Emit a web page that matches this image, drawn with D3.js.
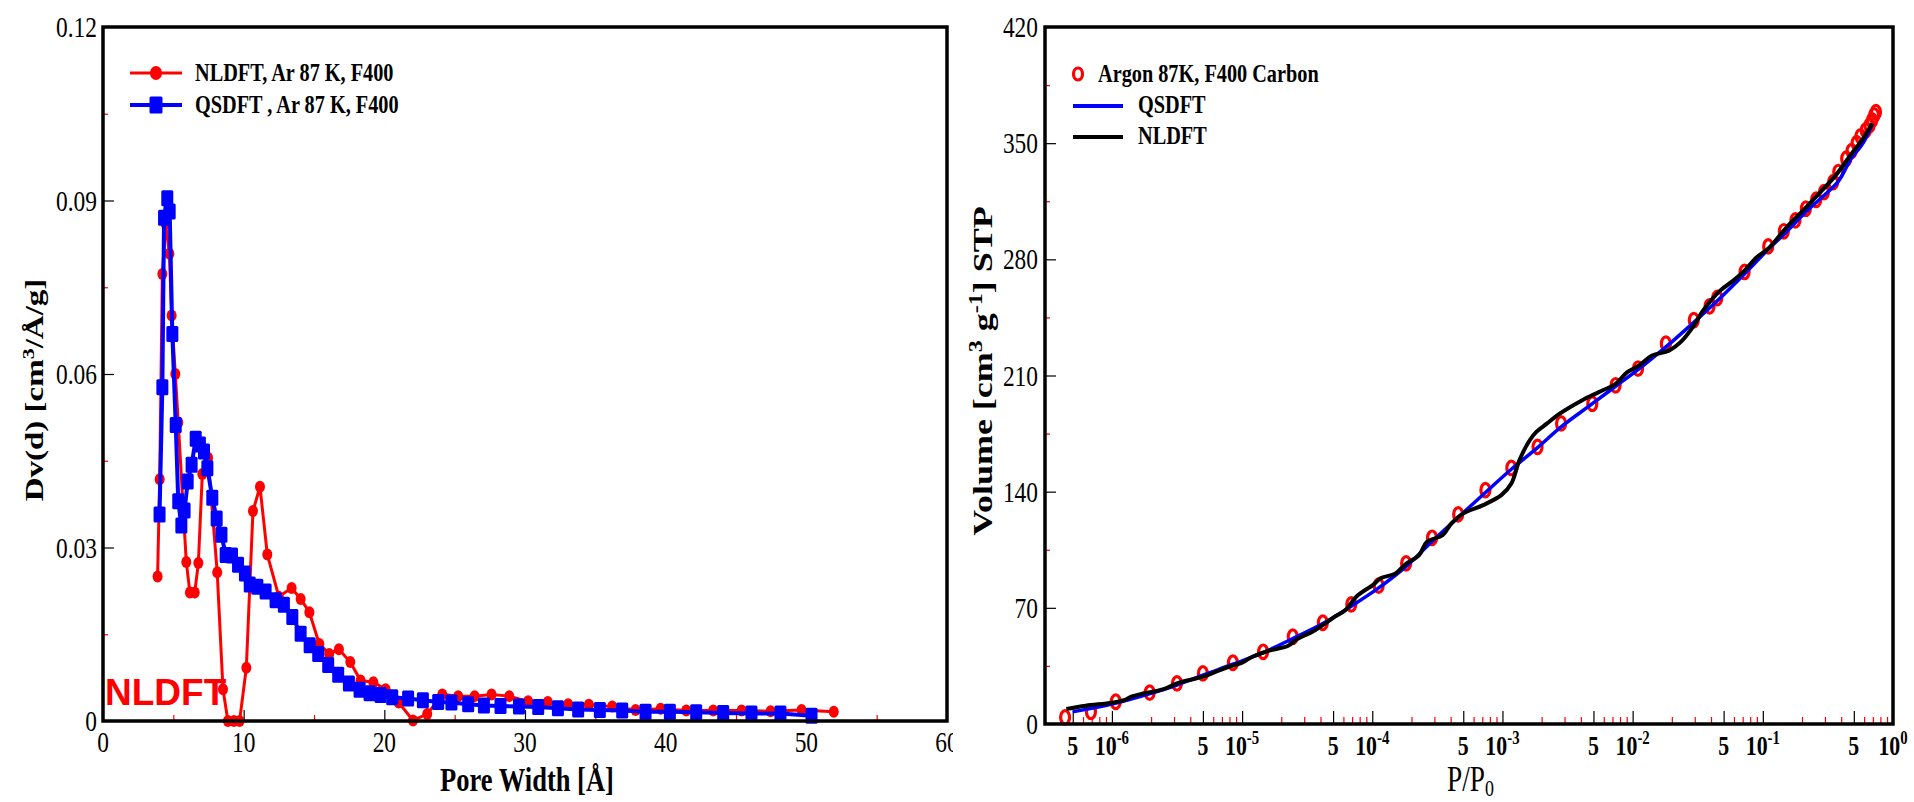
<!DOCTYPE html>
<html>
<head>
<meta charset="utf-8">
<script src="https://cdn.jsdelivr.net/npm/d3@7"></script>
<style>
  body { margin: 0; background: #fff; }
  svg { display: block; }
</style>
</head>
<body>
<svg id="chart" width="1914" height="802"></svg>
<script>
// ---------- Pore size distributions (left panel) ----------
const poreWidthNLDFT = [3.88, 4.03, 4.22, 4.45, 4.72, 4.88, 5.14, 5.35, 5.92, 6.18, 6.52, 6.78, 7.06, 7.47, 8.12, 8.53,
  8.88, 9.31, 9.71, 10.19, 10.66, 11.16, 11.68, 12.50, 13.41, 14.05, 14.67, 15.38, 16.08, 16.77, 17.58, 18.31,
  19.22, 20.09, 21.02, 22.04, 23.05, 24.12, 25.25, 26.42, 27.62, 28.88, 30.22, 31.62, 33.07, 34.54, 36.20,
  37.86, 39.64, 41.46, 43.38, 45.40, 47.46, 49.66, 51.95];
const dvNLDFT = [0.0250, 0.0418, 0.0773, 0.0860, 0.0808, 0.0701, 0.0600, 0.0516, 0.0275, 0.0222, 0.0222, 0.0273,
  0.0427, 0.0455, 0.0257, 0.0055, 0.0, 0.0, 0.0, 0.0092, 0.0363, 0.0405, 0.0288, 0.0215, 0.0230, 0.0211, 0.0188,
  0.0133, 0.0116, 0.0124, 0.0102, 0.0070, 0.0067, 0.0055, 0.0032, 0.0001, 0.0012, 0.0046, 0.0043, 0.0043, 0.0046,
  0.0043, 0.0034, 0.0033, 0.0029, 0.0028, 0.0025, 0.0019, 0.0021, 0.0018, 0.0018, 0.0018, 0.0017, 0.0019, 0.0016];

const poreWidthQSDFT = [4.02, 4.22, 4.34, 4.57, 4.74, 4.93, 5.17, 5.35, 5.57, 5.80, 6.02, 6.30, 6.59, 6.89, 7.18,
  7.42, 7.77, 8.08, 8.42, 8.72, 9.17, 9.60, 10.09, 10.43, 10.97, 11.56, 12.27, 12.86, 13.46, 14.05, 14.69, 15.30,
  16.01, 16.72, 17.48, 18.24, 18.95, 19.73, 20.56, 21.69, 22.74, 23.83, 24.77, 25.96, 27.08, 28.26, 29.57, 30.94,
  32.34, 33.78, 35.32, 36.91, 38.57, 40.30, 42.17, 44.09, 46.10, 48.16, 50.37];
const dvQSDFT = [0.0357, 0.0577, 0.0870, 0.0904, 0.0881, 0.0669, 0.0512, 0.0380, 0.0338, 0.0364, 0.0414, 0.0443,
  0.0488, 0.0478, 0.0466, 0.0437, 0.0386, 0.0350, 0.0322, 0.0287, 0.0286, 0.0270, 0.0255, 0.0236, 0.0232, 0.0224,
  0.0209, 0.0201, 0.0180, 0.0151, 0.0131, 0.0116, 0.0097, 0.0080, 0.0065, 0.0054, 0.0048, 0.0045, 0.0041, 0.0039,
  0.0036, 0.0033, 0.0032, 0.0029, 0.0027, 0.0026, 0.0025, 0.0024, 0.0022, 0.0020, 0.0019, 0.0018, 0.0016, 0.0016,
  0.0015, 0.0014, 0.0013, 0.0013, 0.0009];

const poreTicks = [0, 10, 20, 30, 40, 50, 60];
const poreMinorTicks = [5, 15, 25, 35, 45, 55];
const dvTicks = [0, 0.03, 0.06, 0.09, 0.12];
const dvTickLabels = ["0", "0.03", "0.06", "0.09", "0.12"];
const dvMinorTicks = [0.015, 0.045, 0.075, 0.105];

// ---------- Argon 87 K isotherm on F400 carbon (right panel) ----------
const pExp = [4.37e-7, 6.9e-7, 1.07e-6, 1.95e-6, 3.16e-6, 5.0e-6, 8.5e-6, 1.45e-5, 2.45e-5, 4.17e-5, 6.9e-5,
  1.12e-4, 1.82e-4, 2.88e-4, 4.57e-4, 7.4e-4, 1.17e-3, 1.86e-3, 2.82e-3, 4.9e-3, 7.4e-3, 0.011, 0.018, 0.0295,
  0.039, 0.0447, 0.0724, 0.11, 0.145, 0.178, 0.214, 0.257, 0.295, 0.347, 0.38, 0.437, 0.48, 0.525, 0.562, 0.617,
  0.66, 0.69, 0.716, 0.74];
const vExp = [4.0, 7.4, 13.4, 18.9, 24.5, 30.5, 36.9, 43.5, 52.6, 61.0, 72.1, 83.4, 96.8, 112.2, 126.3, 140.9,
  154.3, 167.0, 181.1, 193.0, 204.1, 214.2, 229.2, 243.3, 251.7, 256.7, 272.4, 287.8, 296.9, 303.5, 310.5, 315.9,
  320.5, 326.5, 332.6, 340.6, 345.2, 350.0, 354.1, 357.7, 360.7, 363.7, 366.7, 368.7];

const pQSDFT = [5.0e-7, 1.0e-6, 2.0e-6, 3.16e-6, 5.0e-6, 8.5e-6, 1.45e-5, 2.45e-5, 4.17e-5, 6.9e-5, 1.12e-4,
  1.82e-4, 2.88e-4, 4.57e-4, 7.4e-4, 1.17e-3, 1.86e-3, 2.82e-3, 4.9e-3, 7.4e-3, 0.011, 0.0182, 0.0295, 0.0447,
  0.072, 0.11, 0.145, 0.214, 0.295, 0.38, 0.48, 0.589, 0.692];
const vQSDFT = [7.4, 12, 18.5, 23.5, 29.5, 36, 43, 51.5, 60.5, 71, 82, 95, 110, 124.5, 139.5, 153.5, 166.5, 179,
  193, 203.5, 213.5, 227.5, 242, 255, 271, 286, 295, 308.5, 318.5, 327, 341, 350, 361];

const pNLDFT = [4.47e-7, 6.3e-7, 1.0e-6, 1.26e-6, 1.41e-6, 1.78e-6, 2.5e-6, 3.16e-6, 5.0e-6, 6.3e-6, 7.9e-6,
  1.0e-5, 1.2e-5, 1.58e-5, 2.24e-5, 2.63e-5, 3.55e-5, 4.17e-5, 5.0e-5, 6.2e-5, 7.6e-5, 1.02e-4, 1.15e-4, 1.51e-4,
  1.78e-4, 2.29e-4, 2.63e-4, 3.47e-4, 4.07e-4, 5.0e-4, 7.1e-4, 9.8e-4, 1.17e-3, 1.35e-3, 1.62e-3, 1.82e-3,
  2.19e-3, 2.75e-3, 4.07e-3, 5.5e-3, 7.4e-3, 9.1e-3, 0.0112, 0.0141, 0.019, 0.024, 0.0295, 0.0347, 0.0468,
  0.059, 0.072, 0.089, 0.112, 0.151, 0.204, 0.269, 0.363, 0.49, 0.589, 0.692];
const vNLDFT = [9.0, 11.0, 12.8, 14.5, 16.5, 18.5, 21.0, 24.5, 28.5, 31.5, 34.5, 37.0, 40.5, 44.0, 47.0, 51.0,
  56.0, 59.6, 64.0, 68.6, 77.0, 84.0, 87.7, 90.7, 96.0, 101.8, 109.8, 113.8, 121.0, 126.9, 131.9, 137.9, 144.9,
  159, 171, 176, 181, 187, 195, 200, 205, 212, 216, 222, 225, 231, 240, 249, 261, 267, 273, 281, 287, 299,
  309.5, 319.5, 330.6, 344.6, 352.7, 362];

const volumeTicks = [0, 70, 140, 210, 280, 350, 420];
const volumeMinorTicks = [35, 105, 175, 245, 315, 385];
const decadeExponents = [-6, -5, -4, -3, -2, -1, 0];
const pressureFives = [5e-7, 5e-6, 5e-5, 5e-4, 5e-3, 5e-2, 5e-1];
const pressureMinorMultipliers = [2, 3, 4, 6, 7, 8, 9];

// ---------- drawing ----------
const svg = d3.select("#chart");
const SX = 0.78;            // horizontal condensation of all serif typography
const serif = "'Liberation Serif', 'Times New Roman', serif";
const RED = "#ff0000", BLUE = "#0000ff";

function zip(a, b) { return a.map((v, i) => [v, b[i]]); }

// a text group condensed horizontally around its anchor point
function textAt(parent, x, y, rotate) {
  return parent.append("g")
    .attr("transform", `translate(${x},${y}) scale(${SX},1)` + (rotate ? ` rotate(${rotate})` : ""))
    .append("text")
    .attr("font-family", serif)
    .attr("fill", "#000");
}

function tickAxis(g, axisFn, scale, values, size, color, transform) {
  const a = g.append("g").attr("transform", transform)
    .call(axisFn(scale).tickValues(values).tickSize(size).tickFormat(""));
  a.select(".domain").remove();
  a.selectAll(".tick line").attr("stroke", color).attr("stroke-width", 1.2);
  return a;
}

// ===== Left panel: Dv(d) vs pore width =====
const L = { left: 103, right: 947, top: 27, bottom: 721 };
const xL = d3.scaleLinear().domain([0, 60]).range([L.left, L.right]);
const yL = d3.scaleLinear().domain([0, 0.12]).range([L.bottom, L.top]);
const gL = svg.append("g");

// the left figure ends just right of its frame
svg.append("clipPath").attr("id", "leftClip")
  .append("rect").attr("x", 0).attr("y", 0).attr("width", 953).attr("height", 802);

// inward ticks
tickAxis(gL, d3.axisLeft, yL, dvMinorTicks, -5, RED, `translate(${L.left},0)`);
tickAxis(gL, d3.axisLeft, yL, dvTicks.slice(1, -1), -11, "#000", `translate(${L.left},0)`);
tickAxis(gL, d3.axisBottom, xL, poreMinorTicks, -6, RED, `translate(0,${L.bottom})`);
tickAxis(gL, d3.axisBottom, xL, poreTicks.slice(1, -1), -11, "#000", `translate(0,${L.bottom})`);

// tick labels
const lblL = gL.append("g").attr("clip-path", "url(#leftClip)");
dvTicks.forEach((v, i) => {
  textAt(lblL, L.left - 6, yL(v), 0)
    .attr("font-size", 30).attr("text-anchor", "end").attr("dominant-baseline", "central")
    .text(dvTickLabels[i]);
});
poreTicks.forEach(v => {
  textAt(lblL, xL(v), 752, 0)
    .attr("font-size", 30).attr("text-anchor", "middle").text(v);
});

// axis titles
textAt(gL, 527, 791, 0).attr("font-size", 34).attr("font-weight", "bold")
  .attr("text-anchor", "middle").text("Pore Width  [Å]");
{
  const t = textAt(gL, 43, 390, -90).attr("font-size", 33).attr("font-weight", "bold").attr("text-anchor", "middle");
  t.append("tspan").text("Dv(d) [cm");
  t.append("tspan").attr("font-size", 22).attr("dy", -12).text("3");
  t.append("tspan").attr("dy", 12).text("/Å/g]");
}

// method tag
gL.append("text").attr("x", 105).attr("y", 705)
  .attr("font-family", "'Liberation Sans', Arial, sans-serif").attr("font-weight", "bold")
  .attr("font-size", 37).attr("fill", RED).text("NLDFT");

// series
const lineL = d3.line().x(d => xL(d[0])).y(d => yL(d[1]));
const nl = zip(poreWidthNLDFT, dvNLDFT);
const qs = zip(poreWidthQSDFT, dvQSDFT);
gL.append("path").datum(nl).attr("d", lineL).attr("fill", "none").attr("stroke", RED).attr("stroke-width", 3);
gL.append("g").selectAll("ellipse").data(nl).join("ellipse")
  .attr("cx", d => xL(d[0])).attr("cy", d => yL(d[1])).attr("rx", 5).attr("ry", 6).attr("fill", RED);
gL.append("path").datum(qs).attr("d", lineL).attr("fill", "none").attr("stroke", BLUE).attr("stroke-width", 4);
gL.append("g").selectAll("rect").data(qs).join("rect")
  .attr("x", d => xL(d[0]) - 6).attr("y", d => yL(d[1]) - 8)
  .attr("width", 12).attr("height", 16).attr("rx", 1.5).attr("fill", BLUE);

// frame
gL.append("rect").attr("x", L.left).attr("y", L.top).attr("width", L.right - L.left).attr("height", L.bottom - L.top)
  .attr("fill", "none").attr("stroke", "#000").attr("stroke-width", 3.5);

// legend
const legL = gL.append("g");
legL.append("line").attr("x1", 130).attr("x2", 182).attr("y1", 73).attr("y2", 73).attr("stroke", RED).attr("stroke-width", 3);
legL.append("ellipse").attr("cx", 156).attr("cy", 73).attr("rx", 6).attr("ry", 7).attr("fill", RED);
legL.append("line").attr("x1", 130).attr("x2", 182).attr("y1", 105).attr("y2", 105).attr("stroke", BLUE).attr("stroke-width", 4);
legL.append("rect").attr("x", 149.5).attr("y", 96.5).attr("width", 13).attr("height", 17).attr("rx", 1.5).attr("fill", BLUE);
textAt(legL, 195, 81, 0).attr("font-size", 26).attr("font-weight", "bold").text("NLDFT, Ar 87 K, F400");
textAt(legL, 195, 113, 0).attr("font-size", 26).attr("font-weight", "bold").text("QSDFT , Ar 87 K, F400");

// ===== Right panel: adsorbed volume vs relative pressure =====
const R = { left: 1045, right: 1893, top: 27, bottom: 724 };
const xR = d3.scaleLog().domain([Math.pow(10, -6.514), 1]).range([R.left, R.right]);
const yR = d3.scaleLinear().domain([0, 420]).range([R.bottom, R.top]);
const gR = svg.append("g");

const decadeTicks = decadeExponents.map(e => Math.pow(10, e));
const minorP = [];
for (let e = -7; e < 0; e++) {
  pressureMinorMultipliers.forEach(m => {
    const p = m * Math.pow(10, e);
    if (p > xR.domain()[0] && p < 1) minorP.push(p);
  });
}

tickAxis(gR, d3.axisLeft, yR, volumeMinorTicks, -5, RED, `translate(${R.left},0)`);
tickAxis(gR, d3.axisLeft, yR, volumeTicks.slice(1, -1), -11, "#000", `translate(${R.left},0)`);
tickAxis(gR, d3.axisBottom, xR, minorP, -7, RED, `translate(0,${R.bottom})`);
tickAxis(gR, d3.axisBottom, xR, decadeTicks.concat(pressureFives).filter(p => p < 1), -13, "#000", `translate(0,${R.bottom})`);

volumeTicks.forEach(v => {
  textAt(gR, R.left - 7, yR(v), 0)
    .attr("font-size", 30).attr("text-anchor", "end").attr("dominant-baseline", "central").text(v);
});
pressureFives.forEach(p => {
  textAt(gR, xR(p), 755, 0).attr("font-size", 28).attr("font-weight", "bold")
    .attr("text-anchor", "middle").text("5");
});
decadeExponents.forEach(e => {
  const t = textAt(gR, xR(Math.pow(10, e)), 755, 0).attr("font-size", 28).attr("font-weight", "bold")
    .attr("text-anchor", "middle");
  t.append("tspan").text("10");
  t.append("tspan").attr("font-size", 19).attr("dy", -11).text(String(e));
});

// axis titles
{
  const t = textAt(gR, 1447, 791, 0).attr("font-size", 35);
  t.append("tspan").text("P/P");
  t.append("tspan").attr("font-size", 23).attr("dy", 5).text("0");
}
{
  const t = textAt(gR, 992, 371, -90).attr("font-size", 36).attr("font-weight", "bold").attr("text-anchor", "middle");
  t.append("tspan").text("Volume [cm");
  t.append("tspan").attr("font-size", 24).attr("dy", -13).text("3");
  t.append("tspan").attr("dy", 13).text(" g");
  t.append("tspan").attr("font-size", 24).attr("dy", -13).text("-1");
  t.append("tspan").attr("dy", 13).text("] STP");
}

// series
const exp = zip(pExp, vExp);
gR.append("g").selectAll("ellipse").data(exp).join("ellipse")
  .attr("cx", d => xR(d[0])).attr("cy", d => yR(d[1])).attr("rx", 4.5).attr("ry", 6.8)
  .attr("fill", "none").attr("stroke", RED).attr("stroke-width", 3.2);
const lineR = d3.line().x(d => xR(d[0])).y(d => yR(d[1])).curve(d3.curveCatmullRom.alpha(0.5));
gR.append("path").datum(zip(pQSDFT, vQSDFT)).attr("d", lineR)
  .attr("fill", "none").attr("stroke", BLUE).attr("stroke-width", 3.5);
gR.append("path").datum(zip(pNLDFT, vNLDFT)).attr("d", lineR)
  .attr("fill", "none").attr("stroke", "#000").attr("stroke-width", 4).attr("stroke-linejoin", "round");

gR.append("rect").attr("x", R.left).attr("y", R.top).attr("width", R.right - R.left).attr("height", R.bottom - R.top)
  .attr("fill", "none").attr("stroke", "#000").attr("stroke-width", 3.5);

// legend
const legR = gR.append("g");
legR.append("ellipse").attr("cx", 1078).attr("cy", 74).attr("rx", 4.5).attr("ry", 6)
  .attr("fill", "none").attr("stroke", RED).attr("stroke-width", 3.2);
legR.append("line").attr("x1", 1073).attr("x2", 1123).attr("y1", 106).attr("y2", 106).attr("stroke", BLUE).attr("stroke-width", 4);
legR.append("line").attr("x1", 1073).attr("x2", 1123).attr("y1", 137).attr("y2", 137).attr("stroke", "#000").attr("stroke-width", 4);
textAt(legR, 1098, 82, 0).attr("font-size", 26).attr("font-weight", "bold").text("Argon 87K, F400 Carbon");
textAt(legR, 1138, 113, 0).attr("font-size", 26).attr("font-weight", "bold").text("QSDFT");
textAt(legR, 1138, 144, 0).attr("font-size", 26).attr("font-weight", "bold").text("NLDFT");
</script>
</body>
</html>
